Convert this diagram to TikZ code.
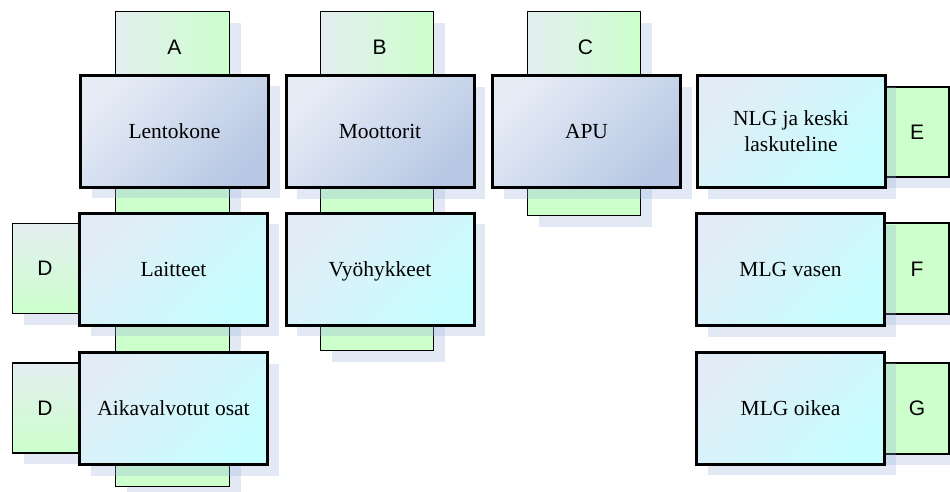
\documentclass[tikz,border=0pt]{standalone}
\usepackage{fontspec}
\setmainfont{Liberation Serif}
\newfontfamily\tabfont{Liberation Sans}
\usetikzlibrary{shadows}
\definecolor{tabgreen}{RGB}{204,255,204}
\definecolor{tablight}{RGB}{228,238,240}
\definecolor{blight}{RGB}{230,236,246}
\definecolor{bdark}{RGB}{184,200,228}
\definecolor{clight}{RGB}{226,236,246}
\definecolor{cdark}{RGB}{198,254,255}
\definecolor{shadowblue}{RGB}{150,175,215}
\begin{document}
\begin{tikzpicture}[x=1pt,y=-1pt,
  shad/.style={drop shadow={shadow xshift=11pt, shadow yshift=-11pt, fill=shadowblue, opacity=0.28}},
  tabbox/.style={draw, line width=1.4pt, inner sep=0pt, shad, fill=tabgreen},
  toptab/.style={tabbox, path picture={\shade[left color=tablight, right color=tabgreen]
      (path picture bounding box.north west) rectangle ([yshift=-62pt]path picture bounding box.north east);}},
  sidetab/.style={tabbox, top color=tablight, bottom color=tabgreen},
  tabletter/.style={inner sep=0pt, font=\tabfont\fontsize{21}{25}\selectfont},
  mainbox/.style={draw, line width=3pt, inner sep=2pt, minimum width=188pt, minimum height=112pt,
      align=center, font=\fontsize{21.5}{26}\selectfont, shad},
  bluebox/.style={mainbox, top color=blight, bottom color=bdark, shading angle=45},
  cyanbox/.style={mainbox, top color=clight, bottom color=cdark, shading angle=45}]
\useasboundingbox (0,0) rectangle (950,491);
\clip (0,0) rectangle (950,491);
% tabs
\node[toptab, minimum width=114pt, minimum height=475pt] (tabA) at (172.5,249) {};
\node[toptab, minimum width=113pt, minimum height=339pt] (tabB) at (377,181) {};
\node[toptab, minimum width=113pt, minimum height=204pt] (tabC) at (584,113.5) {};
\node[sidetab, minimum width=117pt, minimum height=90pt] (tabD1) at (71,268.5) {};
\node[sidetab, minimum width=117pt, minimum height=90pt] (tabD2) at (71,408) {};
\node[tabbox, minimum width=109pt, minimum height=90pt] (tabE) at (894.5,132) {};
\node[tabbox, minimum width=109pt, minimum height=91pt] (tabF) at (894.5,268.5) {};
\node[tabbox, minimum width=109pt, minimum height=91pt] (tabG) at (894.5,408.5) {};
% boxes
\node[bluebox] (lento) at (174.5,131) {Lentokone};
\node[bluebox] (moot) at (380,131.5) {Moottorit};
\node[bluebox] (apu) at (586.5,131.5) {APU};
\node[cyanbox] (nlg) at (791,131.5) {NLG ja keski\\laskuteline};
\node[cyanbox] (lait) at (173.5,269) {Laitteet};
\node[cyanbox] (vyo) at (380,269) {\raisebox{0pt}[\height][0pt]{Vyöhykkeet}};
\node[cyanbox] (mlgv) at (790.5,269.5) {\raisebox{0pt}[\height][0pt]{MLG vasen}};
\node[cyanbox] (aika) at (173.5,408.5) {Aikavalvotut osat};
\node[cyanbox] (mlgo) at (790.5,408) {MLG oikea};
% tab letters
\node[tabletter] (lA) at (174.5,47.5) {A};
\node[tabletter] (lB) at (379.5,47.5) {B};
\node[tabletter] (lC) at (585.5,47.5) {C};
\node[tabletter] (lD1) at (45,268.5) {D};
\node[tabletter] (lD2) at (45,408) {D};
\node[tabletter] (lE) at (917,132) {E};
\node[tabletter] (lF) at (917,269.5) {F};
\node[tabletter] (lG) at (917,408) {G};
\end{tikzpicture}
\end{document}
